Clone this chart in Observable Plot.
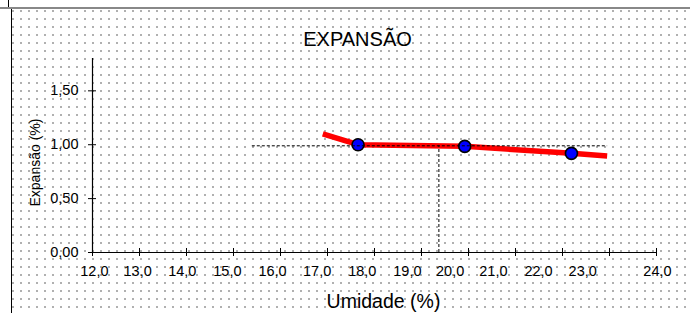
<!DOCTYPE html>
<html><head><meta charset="utf-8">
<script src="https://cdn.jsdelivr.net/npm/d3@7"></script>
<script src="https://cdn.jsdelivr.net/npm/@observablehq/plot@0.6"></script>
<style>
html,body{margin:0;padding:0;background:#fff;width:690px;height:313px;overflow:hidden;}
#wrap{position:relative;width:690px;height:313px;}
#dots{position:absolute;left:12px;top:9px;right:0;bottom:0;
  background-image:url("data:image/svg+xml,%3Csvg xmlns='http://www.w3.org/2000/svg' width='8' height='8'%3E%3Crect x='0' y='0' width='2' height='2' fill='%23b0b0b0'/%3E%3C/svg%3E");
  background-size:8px 8px;background-position:0px 1px;}
#topline{position:absolute;left:0;top:7px;width:690px;height:2px;background:#888;}
#leftline{position:absolute;left:11px;top:9px;width:1px;bottom:0;background:#000;}
#corner{position:absolute;left:8px;top:0;width:1px;height:7px;background:#000;}
#chart{position:absolute;left:0;top:0;}
svg text{font-family:"Liberation Sans",Arial,sans-serif;}
g[aria-label="x-tick-labels"] text, g[aria-label="y-tick-labels"] text{letter-spacing:0.6px;}
g[aria-label="title"] text{letter-spacing:1.2px;}
g[aria-label="x-label"] text{letter-spacing:0.9px;}
g[aria-label="y-label"] text{letter-spacing:1.4px;}
</style></head>
<body>
<div id="wrap">
  <div id="dots"></div>
  <div id="topline"></div>
  <div id="leftline"></div>
  <div id="corner"></div>
  <div id="chart"></div>
</div>
<script>
// ---- data ----
const xTicks = [12, 13, 14, 15, 16, 17, 18, 19, 20, 21, 22, 23, 24];
const xTickLabels = ["12,0","13,0","14,0","15,0","16,0","17,0","18,0","19,0","20,0","21,0","22,0","23,0","24,0"];
// where each tick label sits along the axis (axis units)
const xTickLabelAt = [12.04, 12.96, 13.91, 14.87, 15.83, 16.78, 17.74, 18.70, 19.61, 20.53, 21.49, 22.43, 24.02];
const yTicks = [0, 0.5, 1.0, 1.5];
const yTickLabels = ["0,00", "0,50", "1,00", "1,50"];
const yMax = 1.8;

const umidade = [17.65, 19.92, 22.19];
const expansao = [1.00, 0.985, 0.92];

const fitUmidade = [16.9, 17.65, 19.92, 22.19, 22.95];
const fitExpansao = [1.10, 1.00, 0.985, 0.92, 0.895];

const refExpansao = [0.99];
const refUmidade = [19.37];
const refSpan = [15.4, 22.96];

const title = "EXPANSÃO";
const xLabel = "Umidade (%)";
const yLabel = "Expansão (%)";

// ---- tables ----
const points = umidade.map((u, i) => ({u, e: expansao[i]}));
const fit = fitUmidade.map((u, i) => ({u, e: fitExpansao[i]}));
const xLab = xTickLabels.map((t, i) => ({t, at: xTickLabelAt[i]}));
const yLab = yTickLabels.map((t, i) => ({t, v: yTicks[i]}));

const chart = Plot.plot({
  width: 690,
  height: 313,
  marginLeft: 92,
  marginRight: 34,
  marginTop: 58,
  marginBottom: 61,
  x: {domain: [xTicks[0], xTicks[xTicks.length - 1]], axis: null},
  y: {domain: [0, yMax], axis: null},
  style: {background: "transparent", overflow: "visible", fontFamily: "Liberation Sans, Arial, sans-serif"},
  marks: [
    // axes lines
    Plot.ruleY([0], {x1: xTicks[0], x2: xTicks[xTicks.length - 1], stroke: "#000", strokeWidth: 1.2}),
    Plot.ruleX([xTicks[0]], {y1: 0, y2: yMax, stroke: "#000", strokeWidth: 1.2}),
    // crossing ticks
    Plot.ruleX(xTicks, {y1: 0, y2: 0, insetTop: -4, insetBottom: -4, stroke: "#000"}),
    Plot.ruleY(yTicks, {x1: xTicks[0], x2: xTicks[0], insetLeft: -4, insetRight: -4, stroke: "#000"}),
    // tick labels
    Plot.text(xLab, {x: "at", y: 0, text: "t", dy: 19, fontSize: 14.5, fill: "#000", ariaLabel: "x-tick-labels"}),
    Plot.text(yLab, {x: xTicks[0], y: "v", text: "t", dx: -14, textAnchor: "end", fontSize: 14.5, fill: "#000", ariaLabel: "y-tick-labels"}),
    // fitted curve
    Plot.line(fit, {x: "u", y: "e", stroke: "#ff0000", strokeWidth: 5.5, strokeLinecap: "butt", strokeLinejoin: "miter"}),
    // measured points
    Plot.dot(points, {x: "u", y: "e", r: 6, fill: "#0000ff", stroke: "#000", strokeWidth: 1.6}),
    // reference dashed lines
    Plot.ruleY(refExpansao, {x1: refSpan[0], x2: refSpan[1], stroke: "#000", strokeWidth: 1, strokeDasharray: "3,2"}),
    Plot.ruleX(refUmidade, {y1: 0, y2: refExpansao[0], stroke: "#000", strokeWidth: 1, strokeDasharray: "3,2"}),
    // titles
    Plot.text([title], {frameAnchor: "top", text: d => d, dx: -17, dy: -13, lineAnchor: "bottom", fontSize: 20, fill: "#000", ariaLabel: "title"}),
    Plot.text([xLabel], {frameAnchor: "bottom", text: d => d, dx: 9, dy: 55, lineAnchor: "bottom", fontSize: 19.5, fill: "#000", ariaLabel: "x-label"}),
    Plot.text([yLabel], {frameAnchor: "left", text: d => d, dx: -57, dy: 51, rotate: -90, fontSize: 14, fill: "#000", ariaLabel: "y-label"})
  ]
});
document.getElementById("chart").appendChild(chart);
</script>
</body></html>
